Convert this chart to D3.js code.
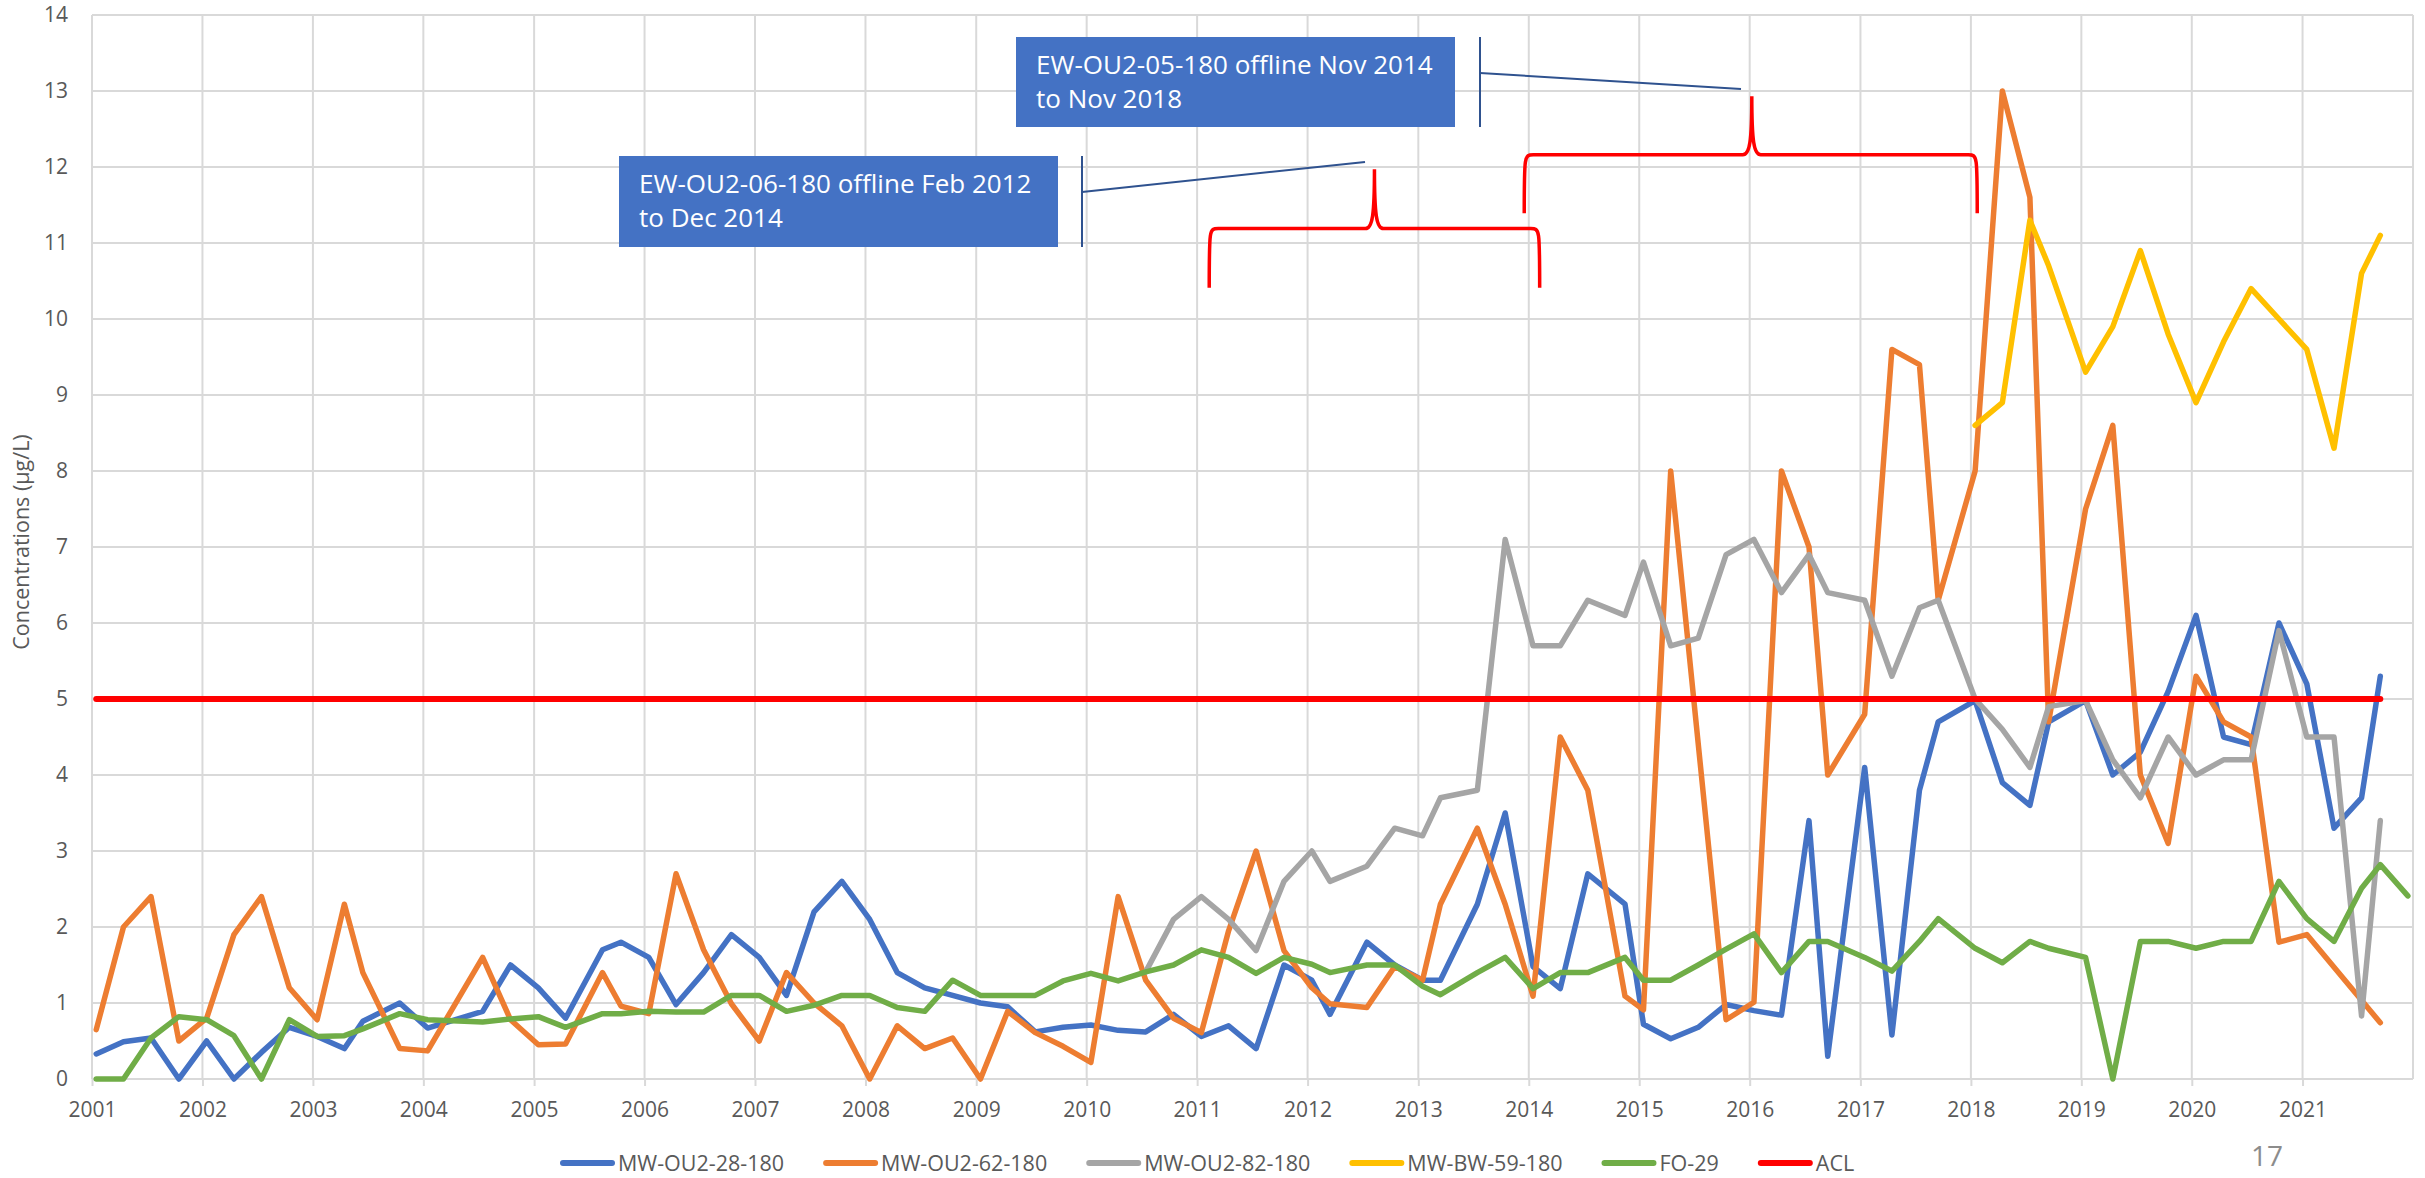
<!DOCTYPE html>
<html>
<head>
<meta charset="utf-8">
<script src="https://cdn.jsdelivr.net/npm/d3@7/dist/d3.min.js"></script>
<style>
  body { margin: 0; background: #fff; }
  svg text { font-family: "Open Sans", sans-serif; }
</style>
</head>
<body>
<div id="chart"></div>
<script>
// sampling dates (roughly quarterly)
var dates = [
  "2001-01","2001-04","2001-07","2001-10",
  "2002-01","2002-04","2002-07","2002-10",
  "2003-01","2003-04","2003-06","2003-10",
  "2004-01","2004-07","2004-10",
  "2005-01","2005-04","2005-08","2005-10",
  "2006-01","2006-04","2006-07","2006-10",
  "2007-01","2007-04","2007-07","2007-10",
  "2008-01","2008-04","2008-07","2008-10",
  "2009-01","2009-04","2009-07","2009-10",
  "2010-01","2010-04","2010-07","2010-10",
  "2011-01","2011-04","2011-07","2011-10",
  "2012-01","2012-03","2012-07","2012-10",
  "2013-01","2013-03","2013-07","2013-10",
  "2014-01","2014-04","2014-07","2014-11",
  "2015-01","2015-04","2015-07","2015-10",
  "2016-01","2016-04","2016-07","2016-09",
  "2017-01","2017-04","2017-07","2017-09",
  "2018-01","2018-04","2018-07","2018-09",
  "2019-01","2019-04","2019-07","2019-10",
  "2020-01","2020-04","2020-07","2020-10",
  "2021-01","2021-04","2021-07","2021-09","2021-12"
];

var mw28 = [
  0.33, 0.49, 0.54, 0,
  0.5, 0, 0.35, 0.68,
  0.56, 0.40, 0.76, 1.0,
  0.67, 0.89, 1.5,
  1.2, 0.8, 1.7, 1.8,
  1.6, 0.98, 1.4, 1.9,
  1.6, 1.1, 2.2, 2.6,
  2.1, 1.4, 1.2, 1.1,
  1.0, 0.95, 0.62, 0.68,
  0.71, 0.64, 0.62, 0.85,
  0.56, 0.7, 0.4, 1.5,
  1.3, 0.85, 1.8, 1.5,
  1.3, 1.3, 2.3, 3.5,
  1.48, 1.19, 2.7, 2.3,
  0.72, 0.53, 0.68, 0.98,
  0.9, 0.84, 3.4, 0.3,
  4.1, 0.58, 3.8, 4.7,
  4.98, 3.9, 3.6, 4.7,
  4.98, 4.0, 4.3, 5.1,
  6.1, 4.5, 4.4, 6.0,
  5.2, 3.3, 3.7, 5.3, null
];

var mw62 = [
  0.65, 2.0, 2.4, 0.5,
  0.8, 1.9, 2.4, 1.2,
  0.78, 2.3, 1.4, 0.4,
  0.37, 1.6, 0.78,
  0.45, 0.46, 1.4, 0.96,
  0.86, 2.7, 1.7, 0.99,
  0.5, 1.4, 1.0, 0.7,
  0, 0.7, 0.4, 0.54,
  0, 0.89, 0.61, 0.43,
  0.22, 2.4, 1.3, 0.8,
  0.61, 1.95, 3.0, 1.69,
  1.2, 0.99, 0.94, 1.48,
  1.3, 2.3, 3.3, 2.3,
  1.09, 4.5, 3.8, 1.09,
  0.91, 8.0, null, 0.78,
  1.01, 8.0, 7.0, 4.0,
  4.8, 9.6, 9.4, 6.3,
  8.0, 13.0, 11.6, 4.7,
  7.5, 8.6, 4.0, 3.1,
  5.3, 4.7, 4.5, 1.8,
  1.9, null, null, 0.74, null
];

var mw82 = [
  null, null, null, null,
  null, null, null, null,
  null, null, null, null,
  null, null, null,
  null, null, null, null,
  null, null, null, null,
  null, null, null, null,
  null, null, null, null,
  null, null, null, null,
  null, null, 1.41, 2.1,
  2.4, 2.1, 1.69, 2.6,
  3.0, 2.6, 2.8, 3.3,
  3.2, 3.7, 3.8, 7.1,
  5.7, 5.7, 6.3, 6.1,
  6.8, 5.7, 5.8, 6.9,
  7.1, 6.4, 6.9, 6.4,
  6.3, 5.3, 6.2, 6.3,
  5.0, 4.6, 4.1, 4.9,
  4.98, 4.2, 3.7, 4.5,
  4.0, 4.2, 4.2, 5.9,
  4.5, 4.5, 0.83, 3.4, null
];

// MW-BW-59-180 only sampled from 2018 on
var bwDates = [
  "2018-01","2018-04","2018-07","2018-09",
  "2019-01","2019-04","2019-07","2019-10",
  "2020-01","2020-04","2020-07","2020-10",
  "2021-01","2021-04","2021-07","2021-09"
];
var bw59 = [
  8.6, 8.9, 11.3, 10.7,
  9.3, 9.9, 10.9, 9.8,
  8.9, 9.7, 10.4, 10.0,
  9.6, 8.3, 10.6, 11.1
];

var fo29 = [
  0, 0, 0.54, 0.82,
  0.78, 0.57, 0, 0.78,
  0.56, 0.57, 0.66, 0.86,
  0.78, 0.75, 0.79,
  0.82, 0.68, 0.86, 0.86,
  0.89, 0.88, 0.88, 1.1,
  1.1, 0.89, 0.97, 1.1,
  1.1, 0.94, 0.89, 1.3,
  1.1, 1.1, 1.1, 1.29,
  1.39, 1.29, 1.41, 1.5,
  1.7, 1.6, 1.39, 1.6,
  1.51, 1.4, 1.5, 1.5,
  1.22, 1.11, 1.4, 1.6,
  1.19, 1.4, 1.4, 1.6,
  1.3, 1.3, 1.5, 1.71,
  1.91, 1.4, 1.81, 1.81,
  1.6, 1.42, 1.81, 2.11,
  1.72, 1.53, 1.81, 1.72,
  1.6, 0, 1.81, 1.81,
  1.72, 1.81, 1.81, 2.6,
  2.11, 1.81, 2.51, 2.82, 2.41
];

var aclValue = 5;
var aclSpan = ["2001-01", "2021-09"];

var yearTicks = d3.range(2001, 2022);
var yTicks = d3.range(0, 15);

var parseMonth = d3.timeParse("%Y-%m");
function toDate(s) { return d3.timeDay.offset(parseMonth(s), 14); }

var series = [
  {name: "MW-OU2-28-180", color: "#4472C4", dates: dates, values: mw28},
  {name: "MW-OU2-62-180", color: "#ED7D31", dates: dates, values: mw62},
  {name: "MW-OU2-82-180", color: "#A5A5A5", dates: dates, values: mw82},
  {name: "MW-BW-59-180", color: "#FFC000", dates: bwDates, values: bw59},
  {name: "FO-29", color: "#70AD47", dates: dates, values: fo29},
  {name: "ACL", color: "#FF0000", dates: aclSpan, values: [aclValue, aclValue]}
];

var width = 2425, height = 1178;
var plot = {left: 92, right: 2413, top: 15, bottom: 1079};

var svg = d3.select("#chart")
  .append("svg")
    .attr("width", width)
    .attr("height", height);

var x = d3.scaleTime()
  .domain([new Date(2001, 0, 1), new Date(2022, 0, 1)])
  .range([plot.left, plot.right]);

var y = d3.scaleLinear()
  .domain([0, 14])
  .range([plot.bottom, plot.top]);

// gridlines
svg.append("g")
  .selectAll("line")
  .data(yTicks)
  .enter()
  .append("line")
    .attr("x1", plot.left)
    .attr("x2", plot.right)
    .attr("y1", function(d) { return y(d); })
    .attr("y2", function(d) { return y(d); })
    .style("stroke", "#d9d9d9")
    .style("stroke-width", 2);

svg.append("g")
  .selectAll("line")
  .data(d3.range(2001, 2023))
  .enter()
  .append("line")
    .attr("x1", function(d) { return x(new Date(d, 0, 1)); })
    .attr("x2", function(d) { return x(new Date(d, 0, 1)); })
    .attr("y1", plot.top)
    .attr("y2", plot.bottom)
    .style("stroke", "#d9d9d9")
    .style("stroke-width", 2);

// axes
var xAxis = svg.append("g")
  .attr("transform", "translate(0," + plot.bottom + ")")
  .call(d3.axisBottom(x)
    .tickValues(yearTicks.map(function(d) { return new Date(d, 0, 1); }))
    .tickFormat(d3.timeFormat("%Y"))
    .tickSize(7)
    .tickPadding(16));
xAxis.select(".domain").remove();
xAxis.selectAll("line").style("stroke", "#d9d9d9").style("stroke-width", 2);
xAxis.selectAll("text")
  .style("font-family", "'Open Sans', sans-serif")
  .style("font-size", "21px")
  .style("fill", "#595959");

var yAxis = svg.append("g")
  .attr("transform", "translate(" + plot.left + ",0)")
  .call(d3.axisLeft(y).tickValues(yTicks).tickSize(0).tickPadding(24));
yAxis.select(".domain").remove();
yAxis.selectAll("text")
  .style("font-family", "'Open Sans', sans-serif")
  .style("font-size", "21px")
  .style("fill", "#595959");

svg.append("text")
  .attr("transform", "translate(29,542) rotate(-90)")
  .attr("text-anchor", "middle")
  .style("font-size", "21.5px")
  .style("fill", "#595959")
  .text("Concentrations (\u00b5g/L)");

// series lines
var line = d3.line()
  .x(function(d) { return x(d.date); })
  .y(function(d) { return y(d.value); });

series.forEach(function(s) {
  var pts = s.dates.map(function(d, i) {
    return {date: toDate(d), value: s.values[i]};
  }).filter(function(p) { return p.value != null; });

  svg.append("path")
    .datum(pts)
    .attr("d", line)
    .style("fill", "none")
    .style("stroke", s.color)
    .style("stroke-width", s.name == "ACL" ? 6 : 5.5)
    .style("stroke-linejoin", "round")
    .style("stroke-linecap", "round");
});

// red braces marking the offline periods
var braces = [
  {from: "2011-02-10", to: "2014-02-06", tip: "2012-08-09", bar: 11.19, top: 11.97, end: 10.41},
  {from: "2013-12-17", to: "2018-01-22", tip: "2016-01-08", bar: 12.16, top: 12.93, end: 11.39}
];
var parseDay = d3.timeParse("%Y-%m-%d");

braces.forEach(function(b) {
  var xl = x(parseDay(b.from)), xr = x(parseDay(b.to)), xt = x(parseDay(b.tip));
  var yb = y(b.bar), yt = y(b.top), ye = y(b.end);
  var p = d3.path();
  p.moveTo(xl, ye);
  p.bezierCurveTo(xl, yb, xl, yb, xl + 9, yb);
  p.lineTo(xt - 9, yb);
  p.bezierCurveTo(xt - 2, yb, xt, yb - 14, xt, yt);
  p.bezierCurveTo(xt, yb - 14, xt + 2, yb, xt + 9, yb);
  p.lineTo(xr - 9, yb);
  p.bezierCurveTo(xr, yb, xr, yb, xr, ye);
  svg.append("path")
    .attr("d", p.toString())
    .style("fill", "none")
    .style("stroke", "#FF0000")
    .style("stroke-width", 3.5);
});

// callout boxes
var callouts = [
  {lines: ["EW-OU2-06-180 offline Feb 2012", "to Dec 2014"], x: 619, y: 156, w: 439, h: 91, bar: 1082, to: [1365, 162]},
  {lines: ["EW-OU2-05-180 offline Nov 2014", "to Nov 2018"], x: 1016, y: 37, w: 439, h: 90, bar: 1480, to: [1741, 89]}
];

callouts.forEach(function(c) {
  var g = svg.append("g");
  g.append("rect")
    .attr("x", c.x).attr("y", c.y)
    .attr("width", c.w).attr("height", c.h)
    .style("fill", "#4472C4");
  g.selectAll("text")
    .data(c.lines)
    .enter()
    .append("text")
      .attr("x", c.x + 20)
      .attr("y", function(d, i) { return c.y + 37 + i * 34; })
      .style("font-size", "26px")
      .style("fill", "#fff")
      .text(function(d) { return d; });
  g.append("line")
    .attr("x1", c.bar).attr("x2", c.bar)
    .attr("y1", c.y).attr("y2", c.y + c.h)
    .style("stroke", "#2F528F").style("stroke-width", 2);
  g.append("line")
    .attr("x1", c.bar).attr("y1", c.y + 36)
    .attr("x2", c.to[0]).attr("y2", c.to[1])
    .style("stroke", "#2F528F").style("stroke-width", 2);
});

// legend
var legend = svg.append("g").attr("transform", "translate(560,1163)");
var lx = 0;
series.forEach(function(s) {
  legend.append("line")
    .attr("x1", lx + 3).attr("x2", lx + 52)
    .attr("y1", 0).attr("y2", 0)
    .style("stroke", s.color)
    .style("stroke-width", 6)
    .style("stroke-linecap", "round");
  var t = legend.append("text")
    .attr("x", lx + 58)
    .attr("dy", "0.35em")
    .style("font-size", "21.5px")
    .style("fill", "#595959")
    .text(s.name);
  lx += 58 + t.node().getComputedTextLength() + 39;
});

// slide number
svg.append("text")
  .attr("x", 2251)
  .attr("y", 1166)
  .style("font-size", "28px")
  .style("fill", "#8c8c8c")
  .text("17");
</script>
</body>
</html>
